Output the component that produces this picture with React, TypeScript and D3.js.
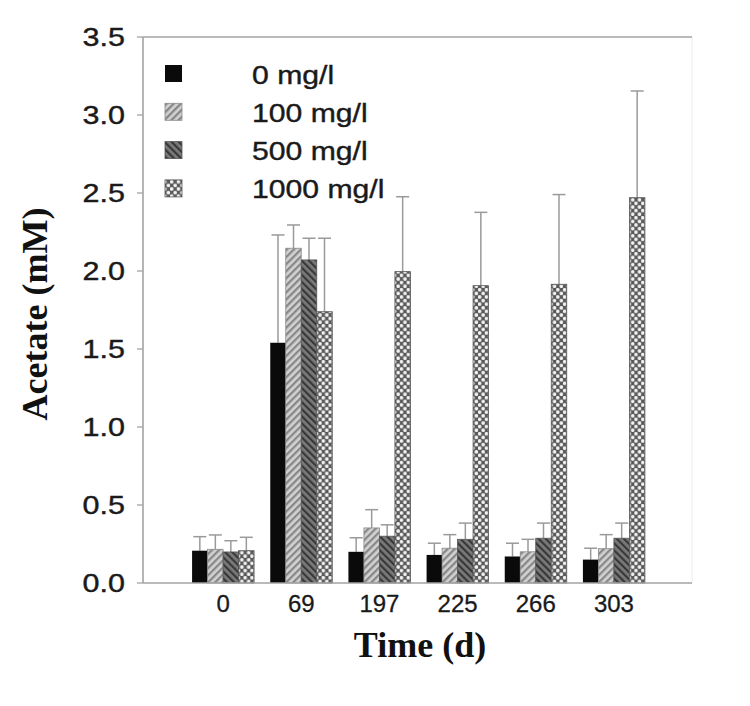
import React from "react";
import * as d3 from "d3";

const categories = ["0", "69", "197", "225", "266", "303"];
const seriesNames = ["0 mg/l", "100 mg/l", "500 mg/l", "1000 mg/l"];
// means
const mean0 = [0.207, 1.54, 0.2, 0.18, 0.17, 0.15];
const mean100 = [0.216, 2.146, 0.353, 0.223, 0.2, 0.22];
const mean500 = [0.199, 2.071, 0.3, 0.28, 0.287, 0.287];
const mean1000 = [0.207, 1.739, 1.996, 1.906, 1.915, 2.47];
// upper end of error bars
const top0 = [0.297, 2.231, 0.29, 0.255, 0.255, 0.223];
const top100 = [0.308, 2.295, 0.47, 0.31, 0.28, 0.31];
const top500 = [0.271, 2.21, 0.373, 0.384, 0.384, 0.384];
const top1000 = [0.293, 2.21, 2.476, 2.376, 2.49, 3.154];
const yTicks = [0, 0.5, 1.0, 1.5, 2.0, 2.5, 3.0, 3.5];

const means = [mean0, mean100, mean500, mean1000];
const tops = [top0, top100, top500, top1000];
const fills = ["#0a0a0a", "url(#p100)", "url(#p500)", "url(#p1000)"];
const strokes = ["none", "#8a8a8a", "#555", "#555"];

export default function App() {
  const y = d3.scaleLinear().domain([0, 3.5]).range([583, 37]);
  const x0 = d3.scaleBand().domain(categories).range([184, 653]).padding(0);
  const x1 = d3.scaleBand().domain(seriesNames).range([-31, 31]).padding(0);
  const bw = x1.bandwidth();
  const left = 143, right = 692;
  const axisColor = "#a3a3a3";
  const sans = "'Liberation Sans', Arial, sans-serif";
  const serif = "'Liberation Serif', 'Times New Roman', serif";
  const txt = "#1a1a1a";

  return (
    <svg width={750} height={706} style={{ position: "absolute", left: 0, top: 0, background: "#fff" }}>
      <defs>
        <pattern id="p100" width={5} height={5} patternUnits="userSpaceOnUse" patternTransform="rotate(45)">
          <rect width={5} height={5} fill="#d2d2d2" />
          <rect x={0} y={0} width={2.3} height={5} fill="#888" />
        </pattern>
        <pattern id="p500" width={5} height={5} patternUnits="userSpaceOnUse" patternTransform="rotate(-45)">
          <rect width={5} height={5} fill="#7a7a7a" />
          <rect x={0} y={0} width={2.2} height={5} fill="#383838" />
        </pattern>
        <pattern id="p1000" width={6.8} height={7.2} patternUnits="userSpaceOnUse">
          <rect width={6.8} height={7.2} fill="#595959" />
          <circle cx={1.7} cy={1.8} r={1.85} fill="#f2f2f2" />
          <circle cx={5.1} cy={5.4} r={1.85} fill="#f2f2f2" />
          <circle cx={5.1} cy={-1.8} r={1.85} fill="#f2f2f2" />
          <circle cx={-1.7} cy={5.4} r={1.85} fill="#f2f2f2" />
        </pattern>
      </defs>

      {/* frame */}
      <line x1={right} x2={right} y1={y(3.5)} y2={y(0)} stroke="#ececec" strokeWidth={1} />
      <line x1={left} x2={right} y1={y(3.5)} y2={y(3.5)} stroke={axisColor} strokeWidth={1.6} />

      {/* bars */}
      {categories.map((c, ci) => (
        <g key={c} transform={`translate(${(x0(c) as number) + x0.bandwidth() / 2},0)`}>
          {seriesNames.map((s, si) => {
            const v = means[si][ci];
            const t = tops[si][ci];
            const bx = x1(s) as number;
            const cx = bx + bw / 2;
            return (
              <g key={s}>
                <line x1={cx} x2={cx} y1={y(v)} y2={y(t)} stroke="#9a9a9a" strokeWidth={1.5} />
                <line x1={cx - 6.5} x2={cx + 6.5} y1={y(t)} y2={y(t)} stroke="#9a9a9a" strokeWidth={1.5} />
                <rect x={bx} y={y(v)} width={bw} height={y(0) - y(v)} fill={fills[si]}
                  stroke={strokes[si]} strokeWidth={strokes[si] === "none" ? 0 : 0.8} />
              </g>
            );
          })}
        </g>
      ))}

      {/* axes */}
      <line x1={left} x2={left} y1={y(3.5)} y2={y(0)} stroke={axisColor} strokeWidth={1.6} />
      <line x1={left} x2={right} y1={y(0)} y2={y(0)} stroke={axisColor} strokeWidth={1.6} />
      {yTicks.map((t) => (
        <g key={t}>
          <line x1={left - 6} x2={left} y1={y(t)} y2={y(t)} stroke={axisColor} strokeWidth={1.3} />
          <text transform={`translate(125,${y(t) + 8.8}) scale(1.22,1)`} textAnchor="end"
            fontFamily={sans} fontSize={25} fill={txt} stroke={txt} strokeWidth={0.4}>{t.toFixed(1)}</text>
        </g>
      ))}
      {categories.map((c) => (
        <text key={c} x={(x0(c) as number) + x0.bandwidth() / 2} y={612} textAnchor="middle"
          fontFamily={sans} fontSize={24} fill={txt} stroke={txt} strokeWidth={0.3}>{c}</text>
      ))}

      {/* legend */}
      {seriesNames.map((s, si) => (
        <g key={s}>
          <rect x={165} y={65 + si * 38.3} width={17} height={17} fill={fills[si]}
            stroke={strokes[si]} strokeWidth={strokes[si] === "none" ? 0 : 0.8} />
          <text transform={`translate(252,${83.5 + si * 38.3}) scale(1.16,1)`} fontFamily={sans}
            fontSize={26} fill={txt} stroke={txt} strokeWidth={0.4}>{s}</text>
        </g>
      ))}

      {/* axis titles */}
      <text x={420} y={657} textAnchor="middle" fontFamily={serif} fontWeight="bold" fontSize={36} fill="#111">Time (d)</text>
      <text transform="translate(47,314) rotate(-90)" textAnchor="middle" fontFamily={serif} fontWeight="bold"
        fontSize={36} fill="#111">Acetate (mM)</text>
    </svg>
  );
}
